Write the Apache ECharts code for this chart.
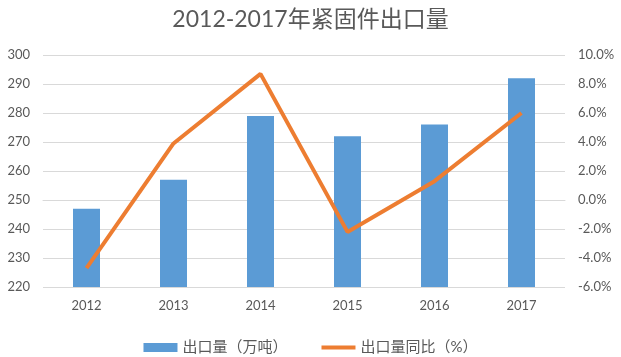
<!DOCTYPE html>
<html><head><meta charset="utf-8">
<script src="https://cdn.jsdelivr.net/npm/echarts@6/dist/echarts.min.js"></script>
<style>html,body{margin:0;padding:0;background:#fff}#c{width:621px;height:357px}</style>
</head><body><div id="c"></div>
<script>
const categories = ['2012','2013','2014','2015','2016','2017'];
const exportVolume = [247, 257, 279, 272, 276, 292];
const yoyGrowth = [-4.7, 3.9, 8.7, -2.2, 1.3, 6.0];
const seriesNames = ['出口量（万吨）', '出口量同比（%）'];
const titleText = '2012-2017年紧固件出口量';

const font = 'Lato, "Noto Sans CJK SC", sans-serif';
const chart = echarts.init(document.getElementById('c'));
chart.setOption({
  animation: false,
  backgroundColor: '#fff',
  title: {text: titleText, left: 'center', top: 3,
    textStyle: {fontFamily: font, fontSize: 23, fontWeight: 'normal', color: '#595959'}},
  grid: {left: 43, right: 56, top: 55, bottom: 70},
  legend: {top: 335, left: 'center', itemWidth: 34, itemHeight: 9, itemGap: 32,
    textStyle: {fontFamily: font, fontSize: 15, color: '#595959'},
    data: [{name: seriesNames[0], icon: 'rect'},
           {name: seriesNames[1], itemStyle: {opacity: 0}, lineStyle: {width: 4}}]},
  xAxis: {type: 'category', data: categories,
    axisLine: {lineStyle: {color: '#d9d9d9'}}, axisTick: {show: false},
    axisLabel: {fontFamily: font, fontSize: 13, color: '#595959', margin: 12}},
  yAxis: [
    {type: 'value', min: 220, max: 300, interval: 10,
      axisLine: {show: false}, axisTick: {show: false},
      splitLine: {lineStyle: {color: '#d9d9d9'}},
      axisLabel: {fontFamily: font, fontSize: 13, color: '#595959', margin: 13}},
    {type: 'value', min: -6, max: 10, interval: 2,
      axisLine: {show: false}, axisTick: {show: false}, splitLine: {show: false},
      axisLabel: {fontFamily: font, fontSize: 13, color: '#595959', margin: 13,
        formatter: v => v.toFixed(1) + '%'}}
  ],
  series: [
    {name: seriesNames[0], type: 'bar', data: exportVolume, barWidth: 27,
      itemStyle: {color: '#5B9BD5'}},
    {name: seriesNames[1], type: 'line', yAxisIndex: 1, data: yoyGrowth,
      symbol: 'none', lineStyle: {color: '#ED7D31', width: 4}, itemStyle: {color: '#ED7D31'}}
  ]
});
</script></body></html>
